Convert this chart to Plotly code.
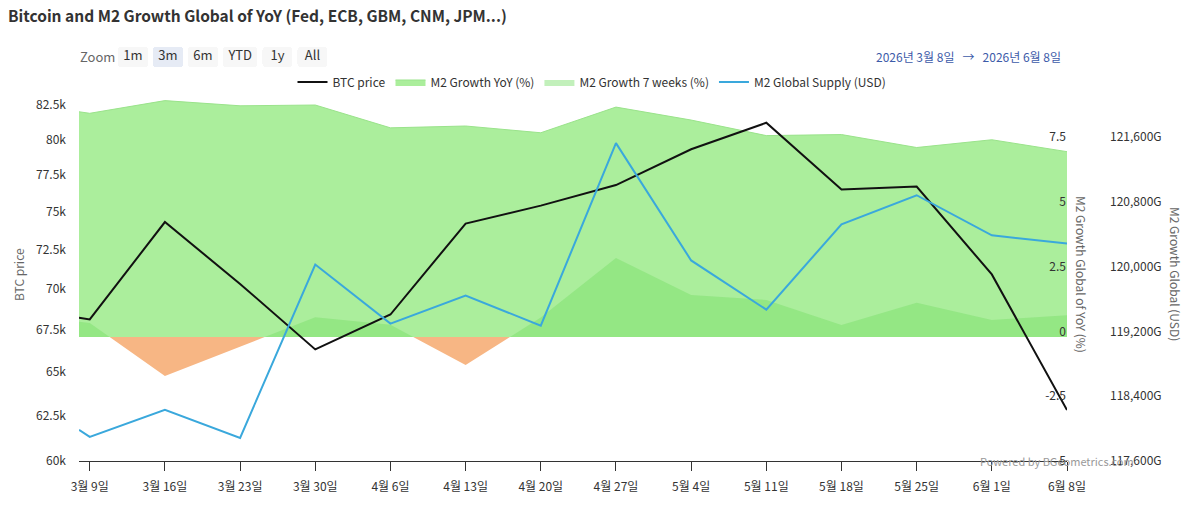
import math
import plotly.graph_objects as go

# ---------------- data ----------------
dates = ["2026-03-08", "2026-03-09", "2026-03-16", "2026-03-23", "2026-03-30",
         "2026-04-06", "2026-04-13", "2026-04-20", "2026-04-27", "2026-05-04",
         "2026-05-11", "2026-05-18", "2026-05-25", "2026-06-01", "2026-06-08"]

btc_price = [68200, 68100, 74300, 70300, 66300, 68400, 74200, 75400, 76800,
             79300, 81200, 76500, 76700, 70900, 62800]

m2_growth_yoy = [8.69, 8.63, 9.12, 8.92, 8.95, 8.07, 8.14, 7.88, 8.87,
                 8.37, 7.77, 7.81, 7.31, 7.61, 7.15]

m2_growth_7w = [0.59, 0.54, -1.50, -0.38, 0.76, 0.47, -1.08, 0.75, 3.05,
                1.62, 1.43, 0.46, 1.32, 0.66, 0.84]

m2_supply_usd = [117984, 117897, 118231, 117885, 120026, 119296, 119643, 119271,
                 121524, 120076, 119469, 120522, 120881, 120386, 120286]

x_tick_dates = ["2026-03-09", "2026-03-16", "2026-03-23", "2026-03-30", "2026-04-06",
                "2026-04-13", "2026-04-20", "2026-04-27", "2026-05-04", "2026-05-11",
                "2026-05-18", "2026-05-25", "2026-06-01", "2026-06-08"]
x_tick_text = ["3월 9일", "3월 16일", "3월 23일", "3월 30일", "4월 6일", "4월 13일",
               "4월 20일", "4월 27일", "5월 4일", "5월 11일", "5월 18일", "5월 25일",
               "6월 1일", "6월 8일"]

btc_ticks = [60000, 62500, 65000, 67500, 70000, 72500, 75000, 77500, 80000, 82500]
btc_tick_text = ["60k", "62.5k", "65k", "67.5k", "70k", "72.5k", "75k", "77.5k", "80k", "82.5k"]

yoy_ticks = [-5, -2.5, 0, 2.5, 5, 7.5]
yoy_tick_text = ["-5", "-2.5", "0", "2.5", "5", "7.5"]

usd_ticks = [117600, 118400, 119200, 120000, 120800, 121600]
usd_tick_text = ["117,600G", "118,400G", "119,200G", "120,000G", "120,800G", "121,600G"]

# ---------------- geometry ----------------
W, H = 1200, 517
L, R_PLOT, R_PAPER, T, B = 79, 1067, 1105, 96, 461
PLOT_H = B - T
FONT = "Noto Sans CJK KR, Noto Sans, sans-serif"

def px_x(px):
    return (px - L) / (R_PAPER - L)

def px_y(py):
    return (B - py) / (B - T)

X_END = (R_PLOT - L) / (R_PAPER - L)

# YoY scale: 25.92 px per unit, -5 at bottom
yoy_px = 324 / 12.5
yoy_top = -5 + PLOT_H / yoy_px
# area zero baseline position
area_zero_py = 337
area_split = (B - area_zero_py) / PLOT_H
area_top = (area_zero_py - T) / yoy_px
area_bottom = -(B - area_zero_py) / yoy_px

log_lo = math.log10(60000)
log_hi = log_lo + PLOT_H / 2574.0

usd_top = 117600 + PLOT_H * 4000 / 324

fig = go.Figure()

fig.add_trace(go.Scatter(
    x=dates, y=m2_growth_yoy, name="M2 Growth YoY (%)", mode="lines",
    fill="tozeroy", fillcolor="#abee9c", line=dict(color="#9ae38b", width=1),
    xaxis="x", yaxis="y", legendrank=2, hoverinfo="skip"))

fig.add_trace(go.Scatter(
    x=dates, y=m2_growth_7w, name="M2 Growth 7 weeks (%)", mode="lines",
    fill="tozeroy", fillcolor="rgba(120,222,105,0.45)", line=dict(color="rgba(120,222,105,0)", width=0),
    xaxis="x", yaxis="y", legendrank=3, hoverinfo="skip"))

fig.add_trace(go.Scatter(
    x=dates, y=m2_growth_7w, name="M2 Growth 7 weeks (%) negative", mode="lines",
    fill="tozeroy", fillcolor="#f7b684", line=dict(color="rgba(0,0,0,0)", width=0),
    xaxis="x", yaxis="y2", showlegend=False, hoverinfo="skip"))

fig.add_trace(go.Scatter(
    x=dates, y=btc_price, name="BTC price", mode="lines",
    line=dict(color="#111111", width=2), xaxis="x", yaxis="y3", legendrank=1))

# carrier for the labelled YoY axis (transparent)
fig.add_trace(go.Scatter(
    x=dates, y=m2_growth_yoy, name="M2 Growth YoY axis", mode="lines",
    line=dict(color="rgba(0,0,0,0)", width=0), xaxis="x", yaxis="y4",
    showlegend=False, hoverinfo="skip"))

fig.add_trace(go.Scatter(
    x=dates, y=m2_supply_usd, name="M2 Global Supply (USD)", mode="lines",
    line=dict(color="#3aa8dc", width=2), xaxis="x", yaxis="y5", legendrank=4))

hidden = dict(visible=False, showgrid=False, zeroline=False, fixedrange=True)

fig.update_layout(
    width=W, height=H, autosize=False,
    margin=dict(l=L, r=W - R_PAPER, t=T, b=H - B, pad=0),
    paper_bgcolor="white", plot_bgcolor="rgba(0,0,0,0)",
    font=dict(family=FONT, size=12, color="#333333"),
    title=dict(text="<b>Bitcoin and M2 Growth Global of YoY (Fed, ECB, GBM, CNM, JPM...)</b>",
               x=8 / W, xanchor="left", y=1 - 17 / H, yanchor="middle",
               font=dict(family=FONT, size=15.5, color="#333333")),
    showlegend=True,
    legend=dict(orientation="h", x=0.5, xanchor="center", y=px_y(82), yanchor="middle",
                font=dict(size=12, color="#333333"), itemwidth=30, bgcolor="rgba(0,0,0,0)",
                traceorder="normal"),
    xaxis=dict(type="date", range=["2026-03-08", "2026-06-08"], domain=[0, X_END],
               anchor="y3", tickmode="array", tickvals=x_tick_dates, ticktext=x_tick_text,
               ticks="outside", ticklen=9, tickcolor="#333333", showline=True, linecolor="#333333",
               linewidth=1, showgrid=False, zeroline=False, ticklabelstandoff=6,
               ticklabeloverflow="allow",
               tickfont=dict(size=12, color="#333333"),
               rangeselector=dict(
                   buttons=[dict(count=1, label="1m", step="month", stepmode="backward"),
                            dict(count=3, label="3m", step="month", stepmode="backward"),
                            dict(count=6, label="6m", step="month", stepmode="backward"),
                            dict(count=1, label="YTD", step="year", stepmode="todate"),
                            dict(count=1, label="1y", step="year", stepmode="backward"),
                            dict(label="All", step="all")],
                   x=px_x(118), xanchor="left", y=px_y(47), yanchor="top",
                   bgcolor="#f7f7f7", activecolor="#e6ebf5", bordercolor="#ffffff", borderwidth=0,
                   font=dict(size=13, color="#333333"))),
    yaxis=dict(domain=[area_split, 1], range=[0, area_top], anchor="x", **hidden),
    yaxis2=dict(domain=[0, area_split], range=[area_bottom, 0], anchor="x", **hidden),
    yaxis3=dict(domain=[0, 1], type="log", range=[log_lo, log_hi], anchor="x", side="left",
                tickmode="array", tickvals=btc_ticks, ticktext=btc_tick_text, ticks="",
                showline=False, showgrid=False, zeroline=False, ticklabelstandoff=12,
                tickfont=dict(size=12, color="#333333")),
    # YoY axis: sits on the right edge of the plot, labels drawn to its left (inside the plot)
    yaxis4=dict(overlaying="y3", side="left", anchor="free", position=X_END, range=[-5, yoy_top],
                tickmode="array", tickvals=yoy_ticks, ticktext=yoy_tick_text, ticks="",
                showline=False, showgrid=False, zeroline=False, ticklabelstandoff=1,
                ticklabeloverflow="allow",
                tickfont=dict(size=12, color="#333333")),
    yaxis5=dict(overlaying="y3", side="right", anchor="free", position=1.0, range=[117600, usd_top],
                tickmode="array", tickvals=usd_ticks, ticktext=usd_tick_text, ticks="",
                showline=False, showgrid=False, zeroline=False, ticklabelstandoff=4,
                tickfont=dict(size=12, color="#333333")),
)

annotations = [
    dict(text="Zoom", x=px_x(78), y=px_y(56), xanchor="left", yanchor="middle",
         font=dict(size=13, color="#666666")),
    dict(text="2026년 3월 8일   →   2026년 6월 8일", x=px_x(1063), y=px_y(56),
         xanchor="right", yanchor="middle", font=dict(size=12, color="#3d5ba9")),
    dict(text="BTC price", x=px_x(18), y=px_y(275), textangle=-90, xanchor="center",
         yanchor="middle", font=dict(size=12, color="#666666")),
    dict(text="M2 Growth Global of YoY (%)", x=px_x(1082), y=px_y(274), textangle=90,
         xanchor="center", yanchor="middle", font=dict(size=12, color="#666666")),
    dict(text="M2 Growth Global (USD)", x=px_x(1176), y=px_y(274), textangle=90,
         xanchor="center", yanchor="middle", font=dict(size=12, color="#666666")),
    dict(text="Powered by BGeometrics.com", x=px_x(978), y=px_y(461), xanchor="left",
         yanchor="middle", font=dict(size=11, color="#999999")),
]
for a in annotations:
    a.update(xref="paper", yref="paper", showarrow=False)
fig.update_layout(annotations=annotations)

fig.write_html("out.html")
